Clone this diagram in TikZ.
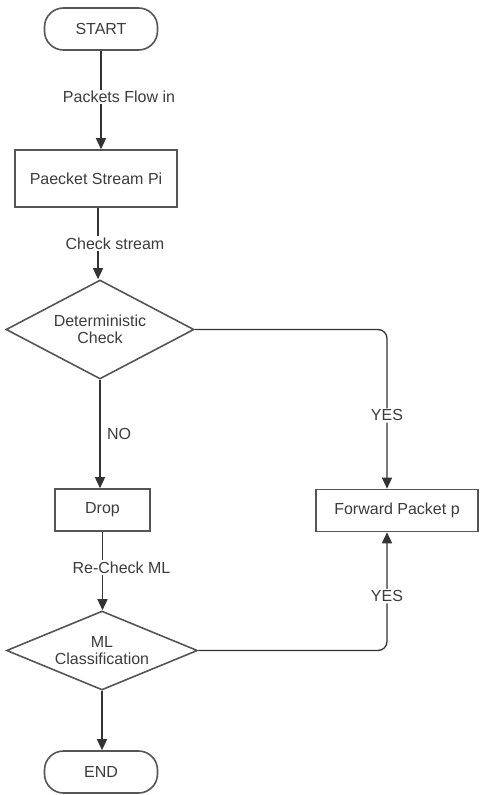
\documentclass[tikz,border=0pt]{standalone}
\usepackage{fontspec}
\setmainfont{Liberation Sans}
\usetikzlibrary{shapes.geometric,arrows.meta}
\definecolor{ln}{HTML}{333333}
\definecolor{bd}{HTML}{555555}
\definecolor{tx}{HTML}{3C3C3C}
\tikzset{
  base/.style={draw=bd, line width=1.6pt, text=tx, font=\fontsize{16}{17}\selectfont, align=center},
  term/.style={base, rectangle, rounded corners=19pt, minimum width=113pt, minimum height=42pt},
  proc/.style={base, rectangle, minimum height=42pt},
  dec/.style={base, diamond, inner sep=0pt, aspect=1.9},
  arr/.style={draw=ln, line width=1.3pt, -{Triangle[length=11pt,width=10pt]}},
  lbl/.style={fill=white, text=tx, font=\fontsize{16}{17}\selectfont, inner sep=1.5pt}
}
\begin{document}
\begin{tikzpicture}[x=1pt,y=-1pt]
\useasboundingbox (0,0) rectangle (480,795);
\node[term] (start) at (101,29) {START};
\node[proc, minimum width=162pt, minimum height=57pt] (pbox) at (96,178.5) {Paecket Stream Pi};
\node[dec, minimum width=188pt, minimum height=99pt] (d1) at (100,329.5) {Deterministic\\Check};
\node[proc, minimum width=95pt] (drop) at (102.5,510) {Drop};
\node[proc, minimum width=162pt] (fwd) at (397,510.5) {Forward Packet p};
\node[dec, minimum width=191pt, minimum height=79pt] (d2) at (102,650.5) {ML\\Classification};
\node[term] (end) at (101,772) {END};
\coordinate (fwdtop) at ([xshift=-10pt]fwd.north);
\coordinate (fwdbot) at ([xshift=-10pt]fwd.south);

\draw[arr] (start.south) -- node[lbl, pos=0.47, xshift=18pt] {Packets Flow in} (start.south |- pbox.north);
\draw[arr] ([xshift=2pt]pbox.south) -- node[lbl, pos=0.5, xshift=17pt] {Check stream} ([xshift=2pt]pbox.south |- d1.north);
\draw[arr] (d1.south) -- node[lbl, right, pos=0.5, xshift=5pt, fill=none] {NO} (d1.south |- drop.north);
\draw[arr, rounded corners=9pt] (d1.east) -| node[lbl, pos=0.77] {YES} (fwdtop);
\draw[arr] (drop.south) -- node[lbl, pos=0.46, xshift=19pt] {Re-Check ML} (drop.south |- d2.north);
\draw[arr, rounded corners=9pt] (d2.east) -| node[lbl, pos=0.73] {YES} (fwdbot);
\draw[arr] (d2.south) -- (d2.south |- end.north);
\end{tikzpicture}
\end{document}
